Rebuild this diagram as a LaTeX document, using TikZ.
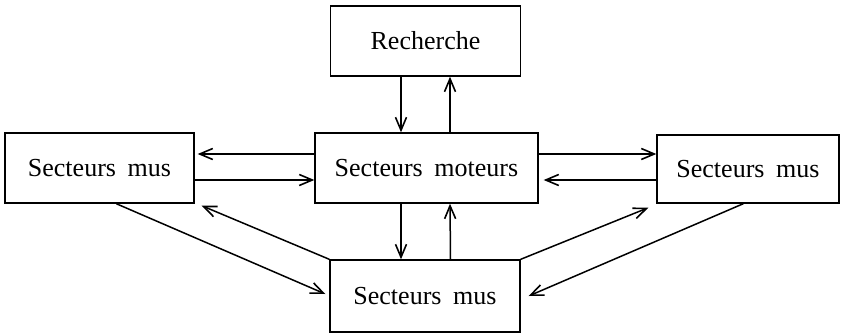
\documentclass[tikz,border=0pt]{standalone}
\usepackage{fontspec}
\setmainfont{Liberation Serif}
\usetikzlibrary{arrows.meta,calc}
\tikzset{
  box/.style={draw, line width=1.4pt, inner sep=0pt, minimum height=70pt,
    font=\fontsize{26}{29}\selectfont},
  link/.style={line width=1.5pt, -{Straight Barb[length=13pt,width=11pt,line width=1.6pt]}},
}
\newcommand{\wsp}{\hspace{0.45em}}
\begin{document}
\begin{tikzpicture}[x=1pt,y=1pt]
\useasboundingbox (0,0) rectangle (841,333);
\node[box, minimum width=190pt] (rech) at (425.5,292) {Recherche};
\node[box, minimum width=223pt] (mot) at (426.5,165) {Secteurs\wsp moteurs};
\node[box, minimum width=189pt] (lm) at (99.5,165) {Secteurs\wsp mus};
\node[box, minimum width=182pt, minimum height=68pt] (rm) at (748,164) {Secteurs\wsp mus};
\node[box, minimum width=190pt, minimum height=72pt] (bm) at (425,37) {Secteurs\wsp mus};

% Recherche <-> moteurs
\draw[link] ($(rech.south)+(-24.5,0)$) -- ($(mot.north)+(-25.5,0)$);
\draw[link] ($(mot.north)+(23.5,0)$) -- ($(rech.south)+(24.5,0)$);
% moteurs <-> left
\draw[link] ($(mot.west)+(0,14)$) -- ($(lm.east)+(3,14)$);
\draw[link] ($(lm.east)+(0,-12)$) -- ($(mot.west)+(0,-12)$);
% moteurs <-> right
\draw[link] ($(mot.east)+(0,14)$) -- ($(rm.west)+(0,15)$);
\draw[link] ($(rm.west)+(0,-11)$) -- ($(mot.east)+(5,-12)$);
% moteurs <-> bottom
\draw[link] ($(mot.south)+(-25.5,0)$) -- ($(bm.north)+(-24,0)$);
\draw[link] ($(bm.north)+(25.5,0)$) -- ($(mot.south)+(23.5,0)$);
% diagonals left
\draw[link] ($(lm.south west)+(112,0)$) -- ($(bm.west)+(-4,2)$);
\draw[link] (bm.north west) -- ($(lm.south east)+(7,-2)$);
% diagonals right
\draw[link] (bm.north east) -- ($(rm.south west)+(-8,-4)$);
\draw[link] ($(rm.south west)+(87,0)$) -- ($(bm.east)+(8,0)$);
\end{tikzpicture}
\end{document}
